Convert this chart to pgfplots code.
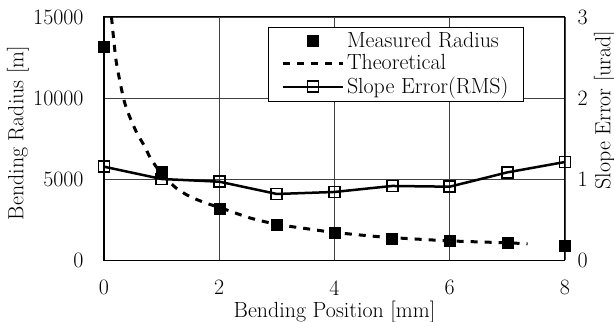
\documentclass[border=0pt]{standalone}
\usepackage{fontspec}
\usepackage{pgfplots}
\pgfplotsset{compat=1.18}
\begin{document}
\fontsize{22}{26}\selectfont
\begin{tikzpicture}
\pgfplotsset{
  common/.style={
    at={(0,0)}, anchor=south west,
    scale only axis, width=461bp, height=243bp,
    xmin=0, xmax=8,
    major tick length=0pt,
    /pgf/number format/assume math mode=true,
    /pgf/number format/1000 sep={},
    scaled y ticks=false,
    axis line style={line width=1bp},
    every axis grid/.style={line width=0.8bp, black!75},
  },
}
\begin{axis}[common,
  xtick={0,2,4,6,8},
  ymin=0, ymax=15000, ytick={0,5000,10000,15000},
  xmajorgrids, ymajorgrids,
  xticklabel style={yshift=-13bp},
  yticklabel style={xshift=-13bp},
  xlabel={Bending Position [mm]},
  every axis x label/.style={at={(230.5bp,-52bp)}, anchor=center},
  ylabel={Bending Radius [m]},
  every axis y label/.style={at={(-86bp,127bp)}, rotate=90, anchor=center},
]
\addplot[black, line width=3bp, dash pattern=on 7bp off 7bp, smooth, tension=0.4] coordinates {
(0.13,15000) (0.21,12300) (0.335,10030) (0.42,9070) (0.57,7840) (0.71,6990) (0.8,6330) (1.0,5300) (1.26,4420) (1.5,3900) (1.78,3500) (2.0,3250) (2.53,2600) (3.0,2200) (3.46,1960) (4.0,1700) (4.73,1450) (5.0,1380) (6.0,1180) (7.0,1060) (7.35,1000)
};
\addplot[only marks, mark=square*, mark size=5.5bp, black] coordinates {
(0,13150) (1,5450) (2,3150) (3,2200) (4,1690) (5,1340) (6,1190) (7,1070) (8,900)
};
\end{axis}
\begin{axis}[common,
  xtick=\empty,
  ymin=0, ymax=3, ytick={0,1,2,3},
  yticklabel pos=right,
  yticklabel style={xshift=5bp},
  every axis y label/.style={at={(501bp,150bp)}, rotate=90, anchor=center},
  ylabel={Slope Error [urad]},
  legend style={at={(164bp,233bp)}, anchor=north west, draw=black, line width=1bp, fill=white,
    inner xsep=13bp, inner ysep=2bp, row sep=-1bp,
    nodes={inner sep=2.5bp}},
  legend cell align=left,
  legend image code/.code={\draw[mark repeat=2, mark phase=2, #1] plot coordinates {(0bp,0bp) (30bp,0bp) (60bp,0bp)};},
]
\addlegendimage{only marks, mark=square*, mark size=5.5bp, black}
\addlegendentry{Measured Radius}
\addlegendimage{black, line width=3bp, dash pattern=on 7bp off 7bp}
\addlegendentry{Theoretical}
\addplot[black, line width=2.5bp, mark=square, mark size=5.5bp, mark options={line width=1.8bp, fill=white, solid}] coordinates {
(0,1.152) (1,1.0) (2,0.967) (3,0.815) (4,0.84) (5,0.914) (6,0.905) (7,1.082) (8,1.21)
};
\addlegendentry{Slope Error(RMS)}
\end{axis}
\pgfresetboundingbox
\useasboundingbox (-104bp,-62bp) rectangle (510bp,260bp);
\end{tikzpicture}
\end{document}
